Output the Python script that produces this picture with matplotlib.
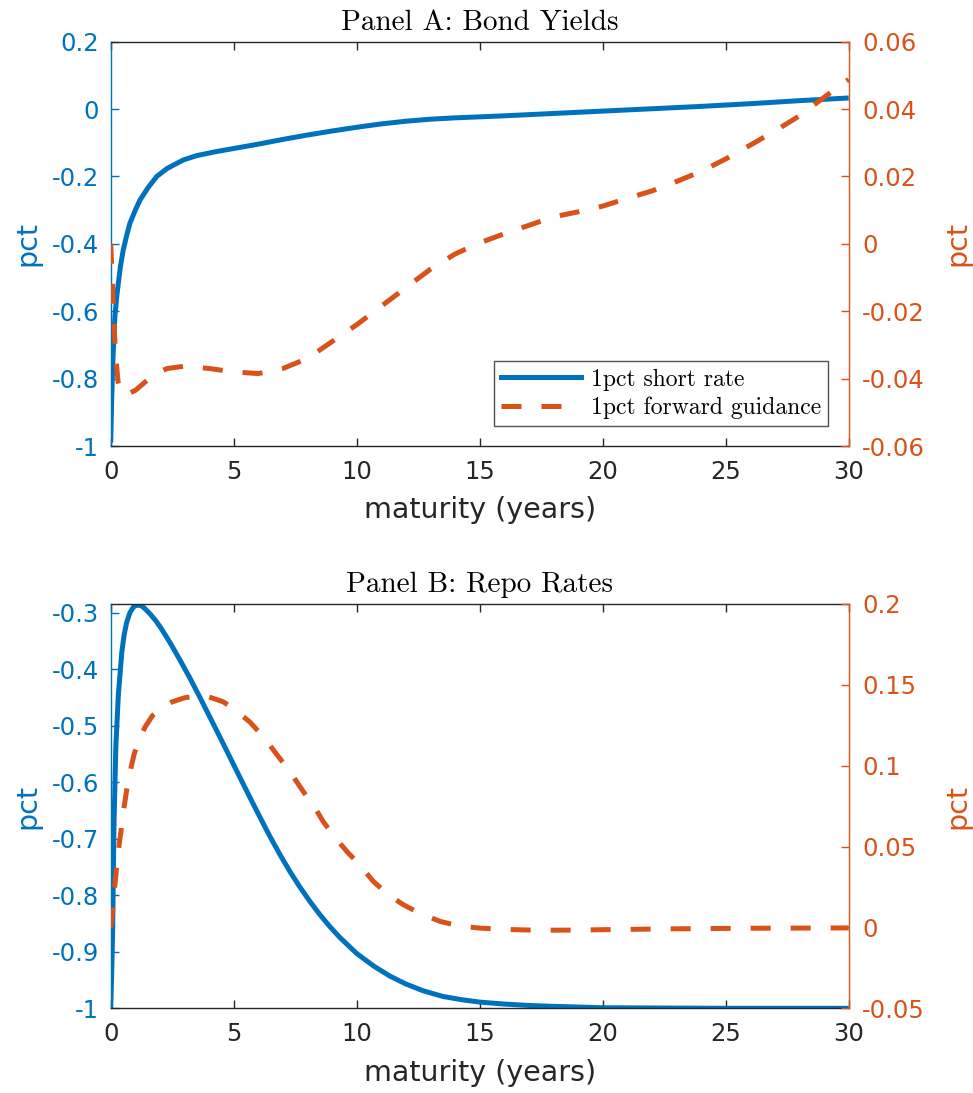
import matplotlib
matplotlib.use("Agg")
import matplotlib.pyplot as plt
from matplotlib.ticker import FuncFormatter
from matplotlib.lines import Line2D

# ---- Panel A: bond yields (pct) ----
a_short_x = [0, 0.04, 0.08, 0.12, 0.17, 0.24, 0.31, 0.4, 0.51, 0.65, 0.78, 1.0,
             1.19, 1.5, 1.87, 2.3, 2.95, 3.5, 4.3, 5, 6, 7, 8, 9, 10, 11, 12,
             13, 14, 15, 16, 18, 20, 22, 24, 26, 28, 30]
a_short_y = [-0.99, -0.86, -0.765, -0.69, -0.616, -0.56, -0.517, -0.465, -0.418,
             -0.375, -0.339, -0.30, -0.27, -0.235, -0.20, -0.176, -0.151, -0.138,
             -0.126, -0.117, -0.104, -0.090, -0.077, -0.065, -0.054, -0.044,
             -0.036, -0.030, -0.026, -0.023, -0.020, -0.013, -0.006, 0.001,
             0.008, 0.016, 0.025, 0.033]

a_fwd_x = [0, 0.05, 0.1, 0.15, 0.2, 0.3, 0.45, 0.7, 1.0, 1.4, 1.8, 2.3, 3.0, 4.0,
           5.0, 6.0, 7.0, 8.0, 9.0, 10.0, 11, 12, 13, 14, 15, 16, 17, 18, 19,
           20, 21, 22, 23, 24, 25, 26, 27, 28, 29, 30]
a_fwd_y = [0.0, -0.008, -0.017, -0.026, -0.033, -0.041, -0.0445, -0.0445,
           -0.0435, -0.041, -0.0385, -0.037, -0.0363, -0.037, -0.038, -0.0385,
           -0.037, -0.034, -0.029, -0.024, -0.0185, -0.013, -0.0075, -0.003,
           0.0003, 0.003, 0.0055, 0.008, 0.0095, 0.0112, 0.0135, 0.0157,
           0.0185, 0.0215, 0.0252, 0.0293, 0.0335, 0.038, 0.0435, 0.0488]

# ---- Panel B: repo rates (pct) ----
b_short_x = [0, 0.04, 0.08, 0.13, 0.21, 0.31, 0.45, 0.55, 0.65, 0.78, 0.92, 1.02,
             1.12, 1.23, 1.35, 1.6, 1.85, 2.07, 2.4, 2.82, 3.2, 3.63, 4.0, 4.44,
             4.85, 5.26, 5.65, 6.07, 6.45, 6.88, 7.3, 7.7, 8.1, 8.5, 8.9, 9.3,
             10.0, 10.7, 11.35, 12.0, 12.7, 13.5, 14.3, 15.0, 16.0, 17.0, 18.0,
             20, 25, 30]
b_short_y = [-1.0, -0.94, -0.858, -0.682, -0.535, -0.446, -0.37, -0.338, -0.317,
             -0.300, -0.290, -0.2872, -0.2865, -0.2875, -0.291, -0.302, -0.315,
             -0.329, -0.352, -0.384, -0.414, -0.450, -0.482, -0.520, -0.556,
             -0.592, -0.626, -0.662, -0.694, -0.728, -0.759, -0.786, -0.811,
             -0.834, -0.855, -0.874, -0.903, -0.9255, -0.943, -0.957, -0.969,
             -0.979, -0.985, -0.989, -0.9925, -0.995, -0.9965, -0.999, -1.0,
             -1.0]

b_fwd_x = [0, 0.05, 0.1, 0.17, 0.24, 0.35, 0.45, 0.55, 0.65, 0.8, 0.95, 1.15,
           1.4, 1.7, 2.0, 2.5, 3.0, 3.5, 4.0, 4.58, 5.1, 5.66, 6.2, 6.75, 7.3,
           7.83, 8.3, 8.64, 9.1, 9.6, 10.1, 10.68, 11.3, 11.9, 12.6, 13.4, 14.2,
           15, 16, 17, 18, 19, 20, 22, 24, 26, 28, 30]
b_fwd_y = [0.0, 0.006, 0.014, 0.026, 0.037, 0.052, 0.063, 0.075, 0.085, 0.097,
           0.107, 0.116, 0.124, 0.131, 0.135, 0.1395, 0.142, 0.1432, 0.1425,
           0.1395, 0.134, 0.127, 0.118, 0.107, 0.096, 0.084, 0.074, 0.0654,
           0.056, 0.047, 0.039, 0.0284, 0.020, 0.014, 0.0085, 0.0037, 0.0008,
           -0.0004, -0.0012, -0.0016, -0.0017, -0.0016, -0.0014, -0.0010,
           -0.0007, -0.0005, -0.0004, -0.0003]

x_ticks = [0, 5, 10, 15, 20, 25, 30]
a_left_ticks = [-1, -0.8, -0.6, -0.4, -0.2, 0, 0.2]
a_right_ticks = [-0.06, -0.04, -0.02, 0, 0.02, 0.04, 0.06]
b_left_ticks = [-1, -0.9, -0.8, -0.7, -0.6, -0.5, -0.4, -0.3]
b_right_ticks = [-0.05, 0, 0.05, 0.1, 0.15, 0.2]

titles = ["Panel A: Bond Yields", "Panel B: Repo Rates"]
labels = ["1pct short rate", "1pct forward guidance"]

BLUE = "#0072BD"
ORANGE = "#D95319"
DARK = "#262626"

plt.rcParams["font.family"] = ["DejaVu Sans"]
plt.rcParams["axes.unicode_minus"] = False


def fmt(v, pos):
    if abs(v) < 1e-12:
        return "0"
    return f"{v:g}"


fig = plt.figure(figsize=(9.73, 10.93), dpi=100)

W = 973.0
H = 1093.0
ax_left = 110.7 / W
ax_w = 738.0 / W
ax_h = 404.3 / H
boxes = [(ax_left, (H - 446.0) / H, ax_w, ax_h),
         (ax_left, (H - 1008.3) / H, ax_w, ax_h)]

panels = [
    (a_short_x, a_short_y, a_fwd_x, a_fwd_y, (-1, 0.2), (-0.06, 0.06),
     a_left_ticks, a_right_ticks),
    (b_short_x, b_short_y, b_fwd_x, b_fwd_y, (-1, -0.2845), (-0.05, 0.2),
     b_left_ticks, b_right_ticks),
]

LW = 3.6
DASH = (4.0, 4.0)
for i, (sx, sy, fx, fy, ylim_l, ylim_r, lt, rt) in enumerate(panels):
    ax = fig.add_axes(boxes[i])
    ax2 = ax.twinx()

    ax.plot(sx, sy, color=BLUE, lw=LW, solid_capstyle="butt",
            solid_joinstyle="round")
    ax2.plot(fx, fy, color=ORANGE, lw=LW, dashes=DASH)

    ax.set_xlim(0, 30)
    ax.set_ylim(*ylim_l)
    ax2.set_ylim(*ylim_r)
    ax.set_xticks(x_ticks)
    ax.set_yticks(lt)
    ax2.set_yticks(rt)
    ax.yaxis.set_major_formatter(FuncFormatter(fmt))
    ax2.yaxis.set_major_formatter(FuncFormatter(fmt))
    ax.xaxis.set_major_formatter(FuncFormatter(fmt))

    for s in ("top", "bottom"):
        ax.spines[s].set_color(DARK)
        ax.spines[s].set_linewidth(1.0)
        ax2.spines[s].set_visible(False)
    ax.spines["right"].set_visible(False)
    ax.spines["left"].set_color(BLUE)
    ax.spines["left"].set_linewidth(1.0)
    ax2.spines["left"].set_visible(False)
    ax2.spines["right"].set_color(ORANGE)
    ax2.spines["right"].set_linewidth(1.0)

    ax.tick_params(axis="x", direction="in", top=True, bottom=True,
                   length=5.5, width=1.0, color=DARK, labelcolor=DARK,
                   labelsize=17.5, pad=10)
    ax.tick_params(axis="y", direction="in", left=True, right=False,
                   length=5.5, width=1.0, color=BLUE, labelcolor=BLUE,
                   labelsize=17.5, pad=8.5)
    ax2.tick_params(axis="y", direction="in", right=True, left=False,
                    length=5.5, width=1.0, color=ORANGE, labelcolor=ORANGE,
                    labelsize=17.5, pad=9.5)

    ax.set_xlabel("maturity (years)", fontsize=20.5, color=DARK, labelpad=9)

    yl = ax.set_ylabel("pct", fontsize=20.5, color=BLUE)
    yl.set_rotation_mode("default")
    yl.set_va("center")
    yl.set_ha("center")
    ax.yaxis.set_label_coords((27.5 - 110.7) / 738.0, 0.5)

    yr = ax2.set_ylabel("pct", fontsize=20.5, color=ORANGE, rotation=90)
    yr.set_rotation_mode("default")
    yr.set_va("center")
    yr.set_ha("center")
    ax2.yaxis.set_label_coords((957.0 - 110.7) / 738.0, 0.5)

    ax.set_title(titles[i], fontsize=21, fontfamily="cmr10", color="black",
                 pad=8.5)

    if i == 0:
        handles = [Line2D([], [], color=BLUE, lw=LW),
                   Line2D([], [], color=ORANGE, lw=LW, dashes=DASH)]
        leg = ax2.legend(handles, labels, loc="lower right",
                         bbox_to_anchor=(0.972, 0.0495), borderaxespad=0,
                         prop={"family": "cmr10", "size": 17},
                         frameon=True, fancybox=False, handlelength=3.4,
                         handletextpad=0.4, borderpad=0.3, labelspacing=0.25)
        leg.get_frame().set_edgecolor(DARK)
        leg.get_frame().set_linewidth(1.0)

fig.savefig("out.png", dpi=100, facecolor="white")
